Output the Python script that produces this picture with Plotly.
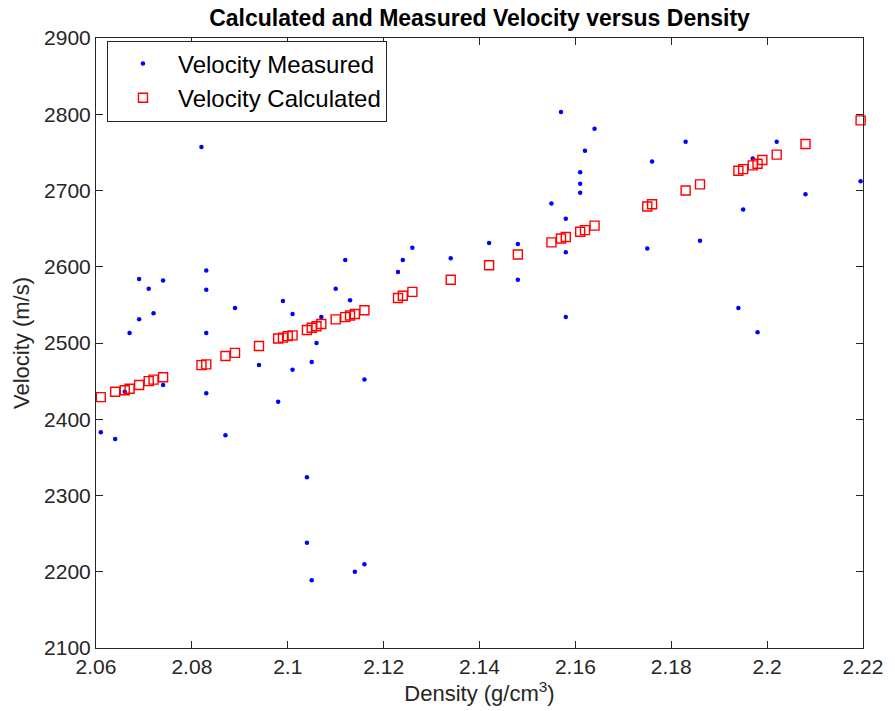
import plotly.graph_objects as go

# Measured data (density g/cm3, velocity m/s)
measured_density = [2.061, 2.064, 2.066, 2.067, 2.069, 2.069, 2.071, 2.072, 2.074, 2.074,
                    2.082, 2.083, 2.083, 2.083, 2.083, 2.087, 2.089, 2.094, 2.098, 2.099,
                    2.101, 2.101, 2.104, 2.104, 2.105, 2.105, 2.106, 2.107, 2.110, 2.112,
                    2.113, 2.114, 2.116, 2.116, 2.123, 2.124, 2.126, 2.134, 2.142, 2.148,
                    2.148, 2.155, 2.157, 2.158, 2.158, 2.158, 2.161, 2.161, 2.161, 2.162,
                    2.164, 2.175, 2.176, 2.183, 2.186, 2.194, 2.195, 2.197, 2.198, 2.202,
                    2.208, 2.2195]
measured_velocity = [2383, 2374, 2436, 2513, 2584, 2531, 2571, 2539, 2582, 2445,
                     2757, 2595, 2570, 2513, 2434, 2379, 2546, 2471, 2423, 2555,
                     2538, 2465, 2324, 2238, 2475, 2189, 2500, 2534, 2571, 2609,
                     2556, 2200, 2452, 2210, 2593, 2609, 2625, 2611, 2631, 2630,
                     2583, 2683, 2803, 2663, 2619, 2534, 2724, 2709, 2697, 2752,
                     2781, 2624, 2738, 2764, 2634, 2546, 2675, 2742, 2514, 2764,
                     2695, 2712]

# Calculated data
calc_density = [2.061, 2.064, 2.066, 2.067, 2.069, 2.071, 2.072, 2.074, 2.082, 2.083,
                2.087, 2.089, 2.094, 2.098, 2.099, 2.100, 2.101, 2.104, 2.105, 2.106,
                2.107, 2.110, 2.112, 2.113, 2.114, 2.116, 2.123, 2.124, 2.126, 2.134,
                2.142, 2.148, 2.155, 2.157, 2.158, 2.161, 2.162, 2.164, 2.175, 2.176,
                2.183, 2.186, 2.194, 2.195, 2.197, 2.198, 2.199, 2.202, 2.208, 2.2195]
calc_velocity = [2429, 2436, 2438, 2440, 2445, 2450, 2452, 2455, 2471, 2472,
                 2483, 2487, 2496, 2506, 2507, 2509, 2510, 2517, 2520, 2522,
                 2525, 2531, 2534, 2536, 2538, 2543, 2559, 2562, 2567, 2583,
                 2602, 2616, 2632, 2637, 2639, 2646, 2648, 2654, 2679, 2682,
                 2700, 2708, 2726, 2728, 2733, 2735, 2740, 2747, 2761, 2792]

x_ticks = [2.06, 2.08, 2.1, 2.12, 2.14, 2.16, 2.18, 2.2, 2.22]
x_tick_labels = ["2.06", "2.08", "2.1", "2.12", "2.14", "2.16", "2.18", "2.2", "2.22"]
y_ticks = [2100, 2200, 2300, 2400, 2500, 2600, 2700, 2800, 2900]

FONT = "Liberation Sans, Arial, Helvetica, sans-serif"
AXC = "#262626"

fig = go.Figure()
fig.add_trace(go.Scatter(
    x=measured_density, y=measured_velocity, mode="markers",
    name="Velocity Measured",
    marker=dict(color="#0000ff", size=4.5, symbol="circle", line=dict(width=0)),
    cliponaxis=False,
))
fig.add_trace(go.Scatter(
    x=calc_density, y=calc_velocity, mode="markers",
    name="Velocity Calculated",
    marker=dict(color="rgba(0,0,0,0)", size=9, symbol="square",
                line=dict(color="#ff0000", width=1.4)),
    cliponaxis=False,
))

axis_common = dict(
    showline=True, linecolor=AXC, linewidth=1, mirror="ticks",
    ticks="inside", ticklen=7, tickwidth=1, tickcolor=AXC,
    showgrid=False, zeroline=False,
    tickfont=dict(family=FONT, size=21, color="#262626"),
)

fig.update_layout(
    width=895, height=711,
    paper_bgcolor="white", plot_bgcolor="white",
    margin=dict(l=96, r=28, t=38, b=63),
    title=dict(text="<b>Calculated and Measured Velocity versus Density</b>",
               font=dict(family=FONT, size=23, color="black"),
               x=0.5, xref="paper", xanchor="center",
               y=1 - 18 / 711, yref="container", yanchor="middle"),
    xaxis=dict(range=[2.06, 2.22], tickvals=x_ticks, ticktext=x_tick_labels,
               title=dict(text="Density (g/cm<sup>3</sup>)",
                          font=dict(family=FONT, size=22, color="#262626"),
                          standoff=2),
               **axis_common),
    yaxis=dict(range=[2100, 2900], tickvals=y_ticks,
               title=dict(text="Velocity (m/s)",
                          font=dict(family=FONT, size=22, color="#262626"),
                          standoff=8),
               **axis_common),
    legend=dict(x=0.0143, y=(648 - 81) / 610, xanchor="left", yanchor="middle",
                bgcolor="white", bordercolor=AXC, borderwidth=1,
                font=dict(family=FONT, size=24, color="black"),
                itemwidth=60, tracegroupgap=0),
    showlegend=True,
)

fig.write_html("out.html", config={"displayModeBar": False},
               post_script="document.body.style.margin='0';")
